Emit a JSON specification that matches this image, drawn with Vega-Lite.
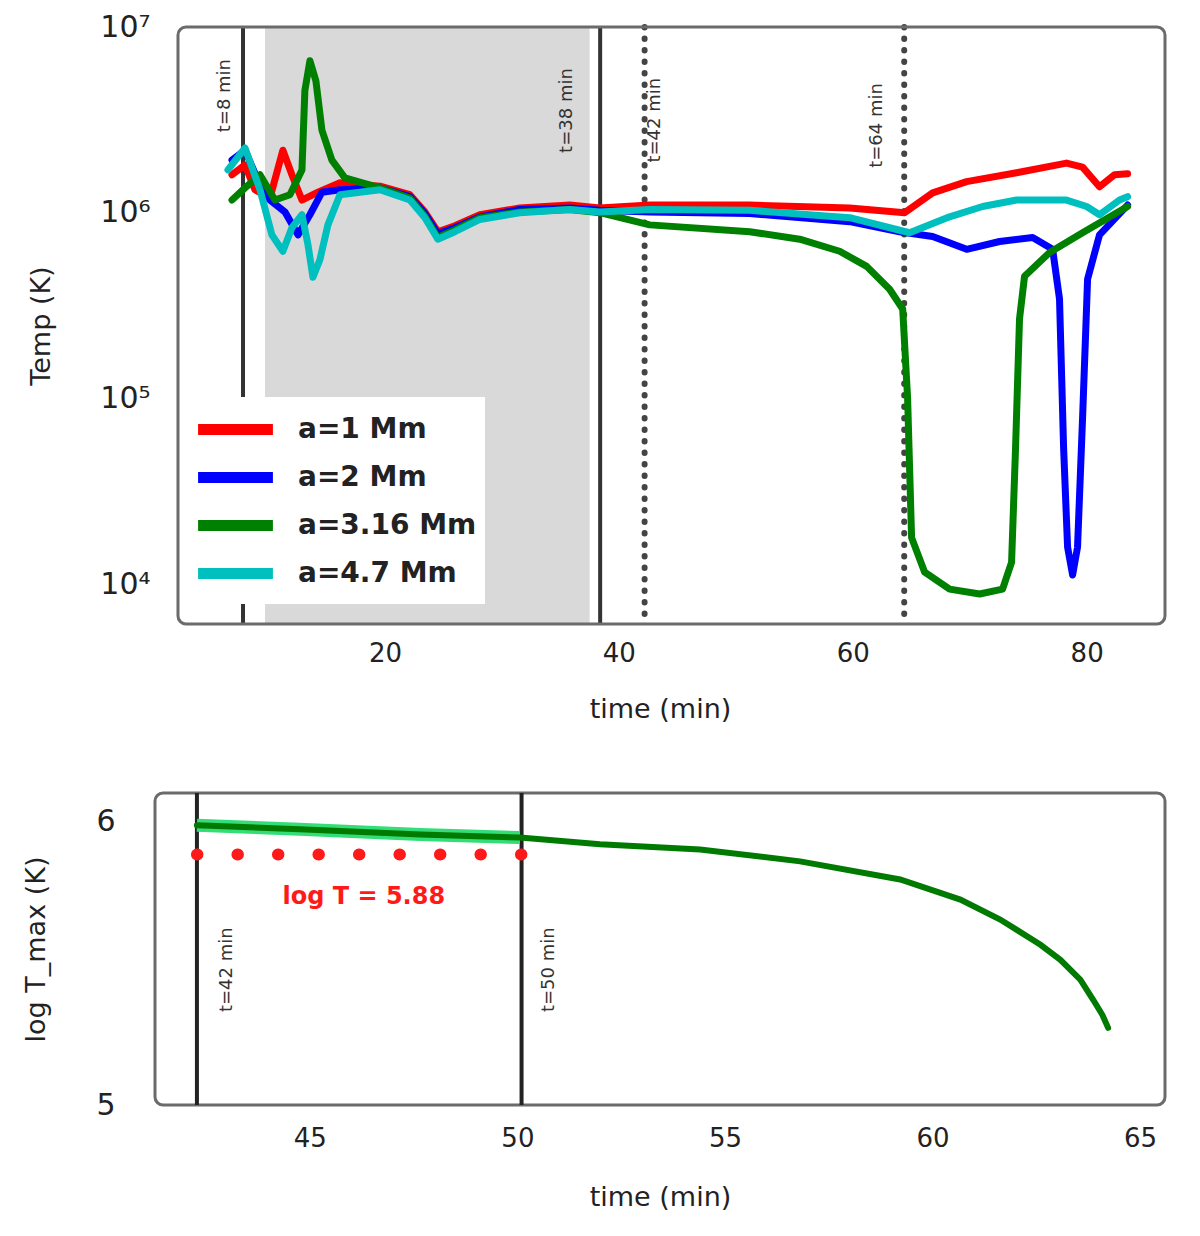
{
  "$schema": "https://vega.github.io/schema/vega-lite/v6.json",
  "padding": {"left": 21, "top": 12, "right": 12, "bottom": 10},
  "background": "white",
  "config": {
    "font": "DejaVu Sans",
    "view": {"stroke": "#6b6b6b", "strokeWidth": 3, "cornerRadius": 8},
    "axis": {"grid": false, "ticks": false, "domain": false, "labelColor": "#222", "titleColor": "#222", "labelFontSize": 26, "titleFontSize": 27, "titleFontWeight": "normal", "labelFlush": false, "labelOverlap": false}
  },
  "datasets": {
    "temp": [
      {"s":"a=1 Mm","t":6.92,"T":1.60e6},{"s":"a=1 Mm","t":8.03,"T":1.81e6},{"s":"a=1 Mm","t":8.88,"T":1.33e6},{"s":"a=1 Mm","t":10.16,"T":1.20e6},{"s":"a=1 Mm","t":11.27,"T":2.17e6},{"s":"a=1 Mm","t":12.04,"T":1.60e6},{"s":"a=1 Mm","t":12.9,"T":1.17e6},{"s":"a=1 Mm","t":14.27,"T":1.29e6},{"s":"a=1 Mm","t":16.15,"T":1.45e6},{"s":"a=1 Mm","t":19.57,"T":1.39e6},{"s":"a=1 Mm","t":22.13,"T":1.25e6},{"s":"a=1 Mm","t":23.41,"T":1.01e6},{"s":"a=1 Mm","t":24.52,"T":7.9e5},{"s":"a=1 Mm","t":25.98,"T":8.5e5},{"s":"a=1 Mm","t":28.11,"T":9.75e5},{"s":"a=1 Mm","t":31.53,"T":1.06e6},{"s":"a=1 Mm","t":35.8,"T":1.10e6},{"s":"a=1 Mm","t":38.37,"T":1.06e6},{"s":"a=1 Mm","t":42.64,"T":1.10e6},{"s":"a=1 Mm","t":51.19,"T":1.10e6},{"s":"a=1 Mm","t":59.74,"T":1.06e6},{"s":"a=1 Mm","t":64.44,"T":1.0e6},{"s":"a=1 Mm","t":66.83,"T":1.28e6},{"s":"a=1 Mm","t":69.74,"T":1.47e6},{"s":"a=1 Mm","t":74.01,"T":1.64e6},{"s":"a=1 Mm","t":78.28,"T":1.85e6},{"s":"a=1 Mm","t":79.65,"T":1.76e6},{"s":"a=1 Mm","t":81.1,"T":1.38e6},{"s":"a=1 Mm","t":82.38,"T":1.60e6},{"s":"a=1 Mm","t":83.5,"T":1.62e6},

      {"s":"a=2 Mm","t":6.92,"T":1.92e6},{"s":"a=2 Mm","t":8.03,"T":2.17e6},{"s":"a=2 Mm","t":9.05,"T":1.54e6},{"s":"a=2 Mm","t":10.16,"T":1.17e6},{"s":"a=2 Mm","t":11.45,"T":1.01e6},{"s":"a=2 Mm","t":12.56,"T":7.6e5},{"s":"a=2 Mm","t":13.58,"T":9.75e5},{"s":"a=2 Mm","t":14.61,"T":1.29e6},{"s":"a=2 Mm","t":16.15,"T":1.33e6},{"s":"a=2 Mm","t":19.57,"T":1.36e6},{"s":"a=2 Mm","t":22.13,"T":1.22e6},{"s":"a=2 Mm","t":23.41,"T":9.9e5},{"s":"a=2 Mm","t":24.52,"T":7.7e5},{"s":"a=2 Mm","t":25.98,"T":8.3e5},{"s":"a=2 Mm","t":28.11,"T":9.5e5},{"s":"a=2 Mm","t":31.53,"T":1.04e6},{"s":"a=2 Mm","t":35.8,"T":1.06e6},{"s":"a=2 Mm","t":38.37,"T":1.03e6},{"s":"a=2 Mm","t":42.64,"T":1.01e6},{"s":"a=2 Mm","t":51.19,"T":9.9e5},{"s":"a=2 Mm","t":59.74,"T":8.95e5},{"s":"a=2 Mm","t":64.0,"T":7.9e5},{"s":"a=2 Mm","t":66.83,"T":7.45e5},{"s":"a=2 Mm","t":69.74,"T":6.35e5},{"s":"a=2 Mm","t":72.56,"T":7.0e5},{"s":"a=2 Mm","t":75.38,"T":7.35e5},{"s":"a=2 Mm","t":77.09,"T":6.35e5},{"s":"a=2 Mm","t":77.68,"T":3.43e5},{"s":"a=2 Mm","t":78.03,"T":5.4e4},{"s":"a=2 Mm","t":78.37,"T":1.58e4},{"s":"a=2 Mm","t":78.8,"T":1.12e4},{"s":"a=2 Mm","t":79.22,"T":1.58e4},{"s":"a=2 Mm","t":79.65,"T":7.8e4},{"s":"a=2 Mm","t":80.08,"T":4.39e5},{"s":"a=2 Mm","t":81.1,"T":7.6e5},{"s":"a=2 Mm","t":83.5,"T":1.10e6},

      {"s":"a=3.16 Mm","t":6.92,"T":1.17e6},{"s":"a=3.16 Mm","t":8.03,"T":1.36e6},{"s":"a=3.16 Mm","t":9.31,"T":1.60e6},{"s":"a=3.16 Mm","t":10.59,"T":1.17e6},{"s":"a=3.16 Mm","t":11.87,"T":1.25e6},{"s":"a=3.16 Mm","t":12.9,"T":1.70e6},{"s":"a=3.16 Mm","t":13.15,"T":4.55e6},{"s":"a=3.16 Mm","t":13.58,"T":6.58e6},{"s":"a=3.16 Mm","t":14.09,"T":5.14e6},{"s":"a=3.16 Mm","t":14.61,"T":2.78e6},{"s":"a=3.16 Mm","t":15.46,"T":1.92e6},{"s":"a=3.16 Mm","t":16.57,"T":1.54e6},{"s":"a=3.16 Mm","t":19.57,"T":1.36e6},{"s":"a=3.16 Mm","t":22.13,"T":1.20e6},{"s":"a=3.16 Mm","t":23.41,"T":9.6e5},{"s":"a=3.16 Mm","t":24.52,"T":7.35e5},{"s":"a=3.16 Mm","t":25.98,"T":8.1e5},{"s":"a=3.16 Mm","t":28.11,"T":9.4e5},{"s":"a=3.16 Mm","t":31.53,"T":1.01e6},{"s":"a=3.16 Mm","t":35.8,"T":1.04e6},{"s":"a=3.16 Mm","t":38.37,"T":1.0e6},{"s":"a=3.16 Mm","t":42.64,"T":8.6e5},{"s":"a=3.16 Mm","t":51.19,"T":7.9e5},{"s":"a=3.16 Mm","t":55.46,"T":7.2e5},{"s":"a=3.16 Mm","t":58.88,"T":6.2e5},{"s":"a=3.16 Mm","t":61.19,"T":5.14e5},{"s":"a=3.16 Mm","t":63.15,"T":3.87e5},{"s":"a=3.16 Mm","t":64.27,"T":3.03e5},{"s":"a=3.16 Mm","t":64.69,"T":1.0e5},{"s":"a=3.16 Mm","t":65.03,"T":1.78e4},{"s":"a=3.16 Mm","t":66.15,"T":1.16e4},{"s":"a=3.16 Mm","t":68.28,"T":9.4e3},{"s":"a=3.16 Mm","t":70.85,"T":8.85e3},{"s":"a=3.16 Mm","t":72.81,"T":9.4e3},{"s":"a=3.16 Mm","t":73.58,"T":1.31e4},{"s":"a=3.16 Mm","t":73.92,"T":5.4e4},{"s":"a=3.16 Mm","t":74.26,"T":2.68e5},{"s":"a=3.16 Mm","t":74.69,"T":4.55e5},{"s":"a=3.16 Mm","t":76.83,"T":6.1e5},{"s":"a=3.16 Mm","t":79.65,"T":7.8e5},{"s":"a=3.16 Mm","t":83.5,"T":1.08e6},

      {"s":"a=4.7 Mm","t":6.57,"T":1.70e6},{"s":"a=4.7 Mm","t":8.03,"T":2.23e6},{"s":"a=4.7 Mm","t":9.31,"T":1.33e6},{"s":"a=4.7 Mm","t":10.33,"T":7.6e5},{"s":"a=4.7 Mm","t":11.27,"T":6.2e5},{"s":"a=4.7 Mm","t":12.04,"T":8.3e5},{"s":"a=4.7 Mm","t":12.9,"T":9.75e5},{"s":"a=4.7 Mm","t":13.41,"T":6.75e5},{"s":"a=4.7 Mm","t":13.84,"T":4.49e5},{"s":"a=4.7 Mm","t":14.44,"T":5.6e5},{"s":"a=4.7 Mm","t":15.12,"T":8.6e5},{"s":"a=4.7 Mm","t":16.15,"T":1.25e6},{"s":"a=4.7 Mm","t":19.57,"T":1.33e6},{"s":"a=4.7 Mm","t":22.13,"T":1.17e6},{"s":"a=4.7 Mm","t":23.41,"T":9.4e5},{"s":"a=4.7 Mm","t":24.52,"T":7.2e5},{"s":"a=4.7 Mm","t":25.98,"T":7.9e5},{"s":"a=4.7 Mm","t":28.11,"T":9.2e5},{"s":"a=4.7 Mm","t":31.53,"T":1.0e6},{"s":"a=4.7 Mm","t":35.8,"T":1.04e6},{"s":"a=4.7 Mm","t":38.37,"T":1.01e6},{"s":"a=4.7 Mm","t":42.64,"T":1.04e6},{"s":"a=4.7 Mm","t":51.19,"T":1.03e6},{"s":"a=4.7 Mm","t":59.74,"T":9.4e5},{"s":"a=4.7 Mm","t":64.86,"T":7.8e5},{"s":"a=4.7 Mm","t":68.28,"T":9.5e5},{"s":"a=4.7 Mm","t":71.1,"T":1.08e6},{"s":"a=4.7 Mm","t":74.01,"T":1.17e6},{"s":"a=4.7 Mm","t":78.28,"T":1.17e6},{"s":"a=4.7 Mm","t":80.0,"T":1.08e6},{"s":"a=4.7 Mm","t":81.1,"T":9.75e5},{"s":"a=4.7 Mm","t":82.81,"T":1.17e6},{"s":"a=4.7 Mm","t":83.5,"T":1.22e6}
    ],
    "topEvents": [
      {"t":7.86,"kind":"solid","label":"t=8 min","lt":6.3,"lT":4.27e6},
      {"t":38.4,"kind":"solid","label":"t=38 min","lt":35.6,"lT":3.55e6},
      {"t":42.2,"kind":"dotted","label":"t=42 min","lt":43.1,"lT":3.15e6},
      {"t":64.4,"kind":"dotted","label":"t=64 min","lt":62.1,"lT":2.95e6}
    ],
    "energy": [
      {"t":42.28,"v":5.986},{"t":44.76,"v":5.972},{"t":47.66,"v":5.954},{"t":50.06,"v":5.943},{"t":51.99,"v":5.919},{"t":54.4,"v":5.901},{"t":56.81,"v":5.859},{"t":59.22,"v":5.795},{"t":60.67,"v":5.724},{"t":61.63,"v":5.654},{"t":62.6,"v":5.565},{"t":63.08,"v":5.512},{"t":63.56,"v":5.442},{"t":63.87,"v":5.371},{"t":64.09,"v":5.318},{"t":64.23,"v":5.272}
    ]
  },
  "concat": [
    {
      "width": 1010,
      "height": 597,
      "view": {"stroke": null},
      "layer": [
        {
          "data": {"values": [{"t0": 9.74, "t1": 37.5}]},
          "mark": {"type": "rect", "color": "#d9d9d9"},
          "encoding": {
            "x": {"field": "t0", "type": "quantitative", "scale": {"domain": [0.334, 86.7], "nice": false, "zero": false}},
            "x2": {"field": "t1"}
          }
        },
        {
          "data": {"name": "topEvents"},
          "transform": [{"filter": "datum.kind == 'solid'"}],
          "mark": {"type": "rule", "color": "#333", "strokeWidth": 4},
          "encoding": {"x": {"field": "t", "type": "quantitative"}}
        },
        {
          "data": {"name": "topEvents"},
          "transform": [{"filter": "datum.kind == 'dotted'"}],
          "mark": {"type": "rule", "color": "#444", "strokeWidth": 6, "strokeDash": [0.5, 11], "strokeCap": "round"},
          "encoding": {"x": {"field": "t", "type": "quantitative"}}
        },
        {
          "data": {"name": "temp"},
          "mark": {"type": "line", "strokeWidth": 7, "strokeJoin": "round", "strokeCap": "round"},
          "encoding": {
            "x": {"field": "t", "type": "quantitative", "axis": {"title": "time (min)", "values": [20, 40, 60, 80], "labelPadding": 16, "titlePadding": 30}},
            "y": {"field": "T", "type": "quantitative", "scale": {"type": "log", "domain": [6100, 10000000], "nice": false},
              "axis": {"title": "Temp (K)", "values": [10000, 100000, 1000000, 10000000], "labelFontSize": 30,
                "labelExpr": "datum.value >= 9e6 ? '10⁷' : datum.value >= 9e5 ? '10⁶' : datum.value >= 9e4 ? '10⁵' : '10⁴'",
                "labelPadding": 5, "titlePadding": 44}},
            "color": {"field": "s", "type": "nominal", "title": null,
              "scale": {"domain": ["a=1 Mm", "a=2 Mm", "a=3.16 Mm", "a=4.7 Mm"], "range": ["#ff0000", "#0000ff", "#008000", "#00bfbf"]},
              "legend": {"orient": "none", "legendX": 48, "legendY": 370, "fillColor": "white", "padding": 8,
                "symbolType": "M-2,0H2", "symbolSize": 1400, "symbolStrokeWidth": 11, "labelFontSize": 28, "labelFontWeight": "bold", "labelColor": "#222", "labelLimit": 400, "rowPadding": 1, "labelOffset": 38}}
          }
        },
        {
          "data": {"name": "topEvents"},
          "mark": {"type": "text", "angle": 270, "fontSize": 18, "color": "#333"},
          "encoding": {
            "x": {"field": "lt", "type": "quantitative"},
            "y": {"field": "lT", "type": "quantitative"},
            "text": {"field": "label"}
          }
        },
        {
          "data": {"values": [{"t0": 2.3, "t1": 86.7}]},
          "mark": {"type": "rect", "fill": "transparent", "stroke": "#6b6b6b", "strokeWidth": 3, "cornerRadius": 8},
          "encoding": {
            "x": {"field": "t0", "type": "quantitative"},
            "x2": {"field": "t1"}
          }
        }
      ]
    },
    {
      "width": 1010,
      "height": 312,
      "layer": [
        {
          "data": {"values": [{"t": 42.28}, {"t": 50.1}]},
          "mark": {"type": "rule", "color": "#222", "strokeWidth": 4},
          "encoding": {"x": {"field": "t", "type": "quantitative", "scale": {"domain": [41.27, 65.6], "nice": false, "zero": false}}}
        },
        {
          "data": {"values": [{"t": 42.28, "v": 5.883}, {"t": 50.1, "v": 5.883}]},
          "mark": {"type": "line", "color": "#ff1a1a", "strokeWidth": 12, "strokeDash": [0.5, 40], "strokeCap": "round"},
          "encoding": {"x": {"field": "t", "type": "quantitative"}, "y": {"field": "v", "type": "quantitative"}}
        },
        {
          "data": {"values": [{"t": 42.28, "v": 5.986}, {"t": 44.76, "v": 5.972}, {"t": 47.66, "v": 5.954}, {"t": 50.06, "v": 5.943}]},
          "mark": {"type": "line", "color": "#33dd77", "strokeWidth": 13},
          "encoding": {"x": {"field": "t", "type": "quantitative"}, "y": {"field": "v", "type": "quantitative"}}
        },
        {
          "data": {"name": "energy"},
          "mark": {"type": "line", "color": "#007a00", "strokeWidth": 6, "strokeCap": "round"},
          "encoding": {
            "x": {"field": "t", "type": "quantitative", "axis": {"title": "time (min)", "values": [45, 50, 55, 60, 65], "labelPadding": 20, "titlePadding": 33}},
            "y": {"field": "v", "type": "quantitative", "scale": {"domain": [5, 6.1], "nice": false, "zero": false},
              "axis": {"title": "log T_max (K)", "values": [5, 6], "format": "d", "labelFontSize": 30, "labelPadding": 40, "titlePadding": 45}}
          }
        },
        {
          "data": {"values": [{"t": 46.3, "v": 5.735, "label": "log T = 5.88"}]},
          "mark": {"type": "text", "fontSize": 24, "fontWeight": "bold", "color": "#ff1a1a"},
          "encoding": {"x": {"field": "t", "type": "quantitative"}, "y": {"field": "v", "type": "quantitative"}, "text": {"field": "label"}}
        },
        {
          "data": {"values": [{"t": 43.0, "v": 5.477, "label": "t=42 min"}, {"t": 50.75, "v": 5.477, "label": "t=50 min"}]},
          "mark": {"type": "text", "angle": 270, "fontSize": 18, "color": "#333"},
          "encoding": {"x": {"field": "t", "type": "quantitative"}, "y": {"field": "v", "type": "quantitative"}, "text": {"field": "label"}}
        }
      ]
    }
  ],
  "columns": 1,
  "align": "none",
  "spacing": 67,
  "resolve": {"scale": {"color": "independent", "x": "independent", "y": "independent"}, "legend": {"color": "independent"}}
}
